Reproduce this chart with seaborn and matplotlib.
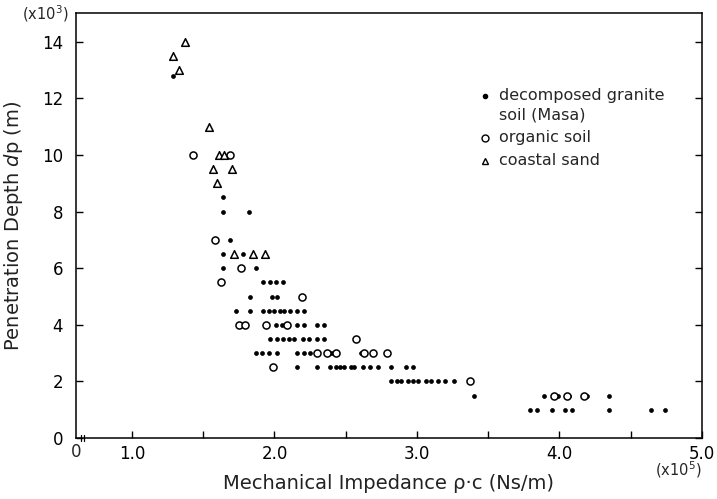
import matplotlib
matplotlib.use("Agg")
import matplotlib.pyplot as plt
import seaborn as sns
import numpy as np

# decomposed granite soil (Masa) - filled dots, x in 1e5 Ns/m, y in 1e-3 m
masa_x = [1.29, 1.64, 1.64, 1.82, 1.69, 1.64, 1.78, 1.64, 1.87,
          1.92, 1.97, 2.01, 2.06,
          1.83, 1.98, 2.015,
          1.73, 1.83, 1.917, 1.96, 2.00, 2.04, 2.07, 2.11, 2.16, 2.21,
          2.01, 2.05, 2.16, 2.21, 2.30, 2.35,
          1.968, 2.015, 2.057, 2.10, 2.14, 2.20, 2.24, 2.30, 2.35,
          1.87, 1.91, 1.96, 2.015, 2.16, 2.21, 2.25, 2.40, 2.61,
          2.16, 2.30, 2.39, 2.43, 2.46, 2.49, 2.54, 2.56, 2.62, 2.67, 2.73, 2.82, 2.92, 2.97,
          2.82, 2.86, 2.89, 2.94, 2.97, 3.01, 3.06, 3.10, 3.15, 3.20, 3.26,
          3.40, 3.89, 3.99, 4.07, 4.19, 4.35,
          3.79, 3.84, 3.95, 4.04, 4.09, 4.35, 4.64, 4.74]
masa_y = [12.8, 8.5, 8.0, 8.0, 7.0, 6.5, 6.5, 6.0, 6.0,
          5.5, 5.5, 5.5, 5.5,
          5.0, 5.0, 5.0,
          4.5, 4.5, 4.5, 4.5, 4.5, 4.5, 4.5, 4.5, 4.5, 4.5,
          4.0, 4.0, 4.0, 4.0, 4.0, 4.0,
          3.5, 3.5, 3.5, 3.5, 3.5, 3.5, 3.5, 3.5, 3.5,
          3.0, 3.0, 3.0, 3.0, 3.0, 3.0, 3.0, 3.0, 3.0,
          2.5, 2.5, 2.5, 2.5, 2.5, 2.5, 2.5, 2.5, 2.5, 2.5, 2.5, 2.5, 2.5, 2.5,
          2.0, 2.0, 2.0, 2.0, 2.0, 2.0, 2.0, 2.0, 2.0, 2.0, 2.0,
          1.5, 1.5, 1.5, 1.5, 1.5, 1.5,
          1.0, 1.0, 1.0, 1.0, 1.0, 1.0, 1.0, 1.0]

# organic soil - open circles
organic_x = [1.43, 1.69, 1.585, 1.765, 1.625, 2.19, 1.75, 1.79, 1.94, 2.09,
             2.57, 2.30, 2.37, 2.43, 2.63, 2.69, 2.79, 1.99, 3.37, 3.96, 4.05, 4.17]
organic_y = [10.0, 10.0, 7.0, 6.0, 5.5, 5.0, 4.0, 4.0, 4.0, 4.0,
             3.5, 3.0, 3.0, 3.0, 3.0, 3.0, 3.0, 2.5, 2.0, 1.5, 1.5, 1.5]

# coastal sand - open triangles
sand_x = [1.37, 1.29, 1.33, 1.54, 1.61, 1.645, 1.566, 1.70, 1.60, 1.716, 1.85, 1.935]
sand_y = [14.0, 13.5, 13.0, 11.0, 10.0, 10.0, 9.5, 9.5, 9.0, 6.5, 6.5, 6.5]

x_major = [1.0, 2.0, 3.0, 4.0, 5.0]
x_ticks = [1.0, 1.5, 2.0, 2.5, 3.0, 3.5, 4.0, 4.5, 5.0]
y_ticks = [0, 2, 4, 6, 8, 10, 12, 14]

sns.set_theme(style="ticks")
plt.rcParams['font.family'] = ['DejaVu Sans']

fig = plt.figure(figsize=(7.17, 4.99), dpi=100)
ax = fig.add_axes([0.1056, 0.1222, 0.8734, 0.8508])

sns.scatterplot(x=masa_x, y=masa_y, ax=ax, marker='o', s=8,
                color='black', edgecolor='black', linewidth=0.5, zorder=3)
sns.scatterplot(x=organic_x, y=organic_y, ax=ax, marker='o', s=26,
                color='white', edgecolor='black', linewidth=1.1, zorder=4)
sns.scatterplot(x=sand_x, y=sand_y, ax=ax, marker='^', s=30,
                color='white', edgecolor='black', linewidth=1.1, zorder=4)

ax.set_xlim(0.605, 5.0)
ax.set_ylim(0, 15)
ax.set_xticks(x_ticks)
ax.set_xticklabels([f"{t:.1f}" if t in x_major else "" for t in x_ticks])
ax.set_yticks(y_ticks)
ax.set_yticklabels([str(t) for t in y_ticks])
ax.tick_params(axis='both', direction='in', length=5, width=1, colors='black',
               labelsize=12)
ax.tick_params(axis='y', right=True, pad=9)
ax.tick_params(axis='x', pad=5)

for sp in ax.spines.values():
    sp.set_visible(True)
    sp.set_color('black')
    sp.set_linewidth(1.1)

ax.set_xlabel("Mechanical Impedance ρ·c (Ns/m)", fontsize=14, labelpad=8,
              color='#222222')
ax.set_ylabel("Penetration Depth $d$p (m)", fontsize=14, labelpad=12,
              color='#222222')

# multipliers and the broken-axis "0"
ax.text(-0.085, 1.0, "(x10$^3$)", transform=ax.transAxes, fontsize=10.5,
        ha='left', va='center')
ax.text(1.0, -0.075, "(x10$^5$)", transform=ax.transAxes, fontsize=10.5,
        ha='right', va='center')
ax.text(0.0, -0.012, "0", transform=ax.transAxes, fontsize=12,
        ha='center', va='top')
for bx in (0.0085, 0.0125):
    ax.plot([bx, bx], [-0.008, 0.008], transform=ax.transAxes, color='black',
            lw=0.9, clip_on=False)

# legend
ax.plot([0.654], [0.806], 'o', ms=3, color='black', transform=ax.transAxes)
ax.text(0.676, 0.806, "decomposed granite", transform=ax.transAxes,
        fontsize=11.5, va='center', ha='left')
ax.text(0.676, 0.760, "soil (Masa)", transform=ax.transAxes,
        fontsize=11.5, va='center', ha='left')
ax.plot([0.654], [0.707], 'o', ms=5, mfc='white', mec='black', mew=1,
        transform=ax.transAxes)
ax.text(0.676, 0.707, "organic soil", transform=ax.transAxes,
        fontsize=11.5, va='center', ha='left')
ax.plot([0.654], [0.653], '^', ms=5, mfc='white', mec='black', mew=1,
        transform=ax.transAxes)
ax.text(0.676, 0.653, "coastal sand", transform=ax.transAxes,
        fontsize=11.5, va='center', ha='left')

fig.savefig("out.png", dpi=100)
